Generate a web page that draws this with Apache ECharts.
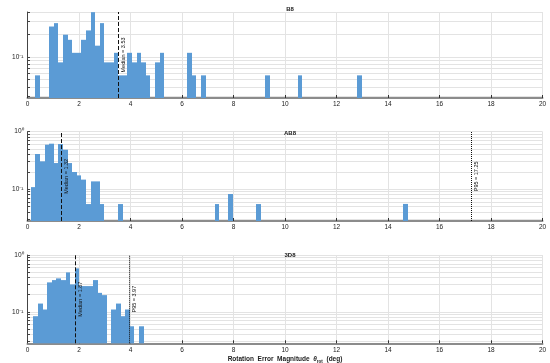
<!DOCTYPE html>
<html>
<head>
<meta charset="utf-8">
<script src="https://cdn.jsdelivr.net/npm/echarts@6/dist/echarts.min.js"></script>
<style>
html,body{margin:0;padding:0;background:#fff;}
#chart{width:550px;height:363px;}
</style>
</head>
<body>
<div id="chart"></div>
<script>
// ---- data ----
const panelTitles = ['B8', 'AB8', '3D8'];
const xTickLabels = ['0','2','4','6','8','10','12','14','16','18','20'];

// B8 histogram: bin start, bin width, non-empty bin indices and PDF values
const b8BinStart = 0.31, b8BinWidth = 0.1786;
const b8Bins = [0,3,4,5,6,7,8,9,10,11,12,13,14,15,16,17,18,19,20,21,22,23,24,26,27,33,34,36,50,57,70];
const b8Pdf  = [0.057,0.256,0.284,0.085,0.199,0.170,0.114,0.114,0.170,0.227,0.398,0.142,0.284,0.085,0.085,0.114,0.057,0.057,0.114,0.085,0.114,0.085,0.057,0.085,0.114,0.114,0.057,0.057,0.057,0.057,0.057];
const b8Median = 3.53;

// AB8 histogram
const ab8BinStart = 0.13, ab8BinWidth = 0.1785;
const ab8Bins = [0,1,2,3,4,5,6,7,8,9,10,11,12,13,14,15,19,40,43,49,81];
const ab8Pdf  = [0.108,0.408,0.304,0.593,0.618,0.284,0.609,0.485,0.284,0.198,0.173,0.146,0.0547,0.136,0.136,0.0547,0.0547,0.0547,0.082,0.0547,0.055];
const ab8Median = 1.32, ab8P95 = 17.25;

// 3D8 histogram
const d8BinStart = 0.23, d8BinWidth = 0.1783;
const d8Bins = [0,1,2,3,4,5,6,7,8,9,10,11,12,13,14,15,17,18,19,20,21,23];
const d8Pdf  = [0.0839,0.140,0.110,0.330,0.362,0.388,0.362,0.494,0.304,0.582,0.284,0.284,0.284,0.362,0.216,0.197,0.110,0.140,0.0839,0.110,0.0558,0.0558];
const d8Median = 1.87, d8P95 = 3.97;

// y ranges (log)
const yMins = [0.0284, 0.0277, 0.028];
const yMaxs = [0.4, 1, 1];
const yGridVals = [
  [0.03,0.04,0.05,0.06,0.07,0.08,0.09,0.1,0.2,0.3,0.4],
  [0.03,0.04,0.05,0.06,0.07,0.08,0.09,0.1,0.2,0.3,0.4,0.5,0.6,0.7,0.8,0.9,1],
  [0.03,0.04,0.05,0.06,0.07,0.08,0.09,0.1,0.2,0.3,0.4,0.5,0.6,0.7,0.8,0.9,1]
];
const yLabelVals = [[0.1],[0.1,1],[0.1,1]];

// ---- build chart ----
const FONT = 'Liberation Sans, Arial, sans-serif';
const BAR = '#5b9bd5';
const grids = [
  {left: 27.5, right: 7.5, top: 12, height: 86, outerBoundsMode: 'none', containLabel: false},
  {left: 27.5, right: 7.5, top: 131.7, height: 89.3, outerBoundsMode: 'none', containLabel: false},
  {left: 27.5, right: 7.5, top: 255, height: 88.3, outerBoundsMode: 'none', containLabel: false}
];
const titleTops = [1.5, 125.5, 247];

function toRects(start, width, bins, pdf) {
  return bins.map((k, i) => [start + k * width, start + (k + 1) * width, pdf[i]]);
}
const panelData = [
  toRects(b8BinStart, b8BinWidth, b8Bins, b8Pdf),
  toRects(ab8BinStart, ab8BinWidth, ab8Bins, ab8Pdf),
  toRects(d8BinStart, d8BinWidth, d8Bins, d8Pdf)
];
const panelLines = [
  [{x: b8Median, text: 'Median = ' + b8Median.toFixed(2), type: [4, 2]}],
  [{x: ab8Median, text: 'Median = ' + ab8Median.toFixed(2), type: [4, 2]},
   {x: ab8P95, text: 'P95 = ' + ab8P95.toFixed(2), type: [1, 1]}],
  [{x: d8Median, text: 'Median = ' + d8Median.toFixed(2), type: [4, 2]},
   {x: d8P95, text: 'P95 = ' + d8P95.toFixed(2), type: [1, 1]}]
];

const option = {
  animation: false,
  backgroundColor: '#fff',
  title: panelTitles.map((t, i) => ({
    text: t, left: 285, top: titleTops[i], textAlign: 'center',
    textStyle: {fontFamily: FONT, fontSize: 6, fontWeight: 'bold', color: '#222'}
  })),
  grid: grids,
  xAxis: grids.map((g, i) => ({
    type: 'value', gridIndex: i, min: 0, max: 20, interval: 2,
    axisLine: {show: true, onZero: false, lineStyle: {color: '#8c8c8c', width: 2}},
    axisTick: {show: true, inside: true, length: 3, lineStyle: {color: '#333', width: 1}},
    axisLabel: {fontFamily: FONT, fontSize: 6.5, color: '#222', margin: 3,
      formatter: v => xTickLabels[Math.round(v / 2)]},
    splitLine: {show: true, lineStyle: {color: '#e3e3e3', width: 1}},
    name: i === 2 ? '{n|Rotation  Error  Magnitude  }{t|θ}{s|rot}{n|  (deg)}' : '',
    nameLocation: 'middle', nameGap: 11,
    nameTextStyle: {
      fontFamily: FONT, fontSize: 6.5, fontWeight: 'bold', color: '#222',
      rich: {
        n: {fontFamily: FONT, fontSize: 6.5, fontWeight: 'bold', color: '#222', lineHeight: 10, verticalAlign: 'middle'},
        t: {fontFamily: FONT, fontSize: 6.5, fontWeight: 'bold', fontStyle: 'italic', color: '#222', lineHeight: 10, verticalAlign: 'middle'},
        s: {fontFamily: FONT, fontSize: 4.5, fontWeight: 'bold', color: '#222', lineHeight: 6, verticalAlign: 'bottom'}
      }
    }
  })),
  yAxis: grids.map((g, i) => ({
    type: 'log', logBase: 10, gridIndex: i, min: yMins[i], max: yMaxs[i],
    name: 'PDF', nameLocation: 'middle', nameGap: 18,
    nameTextStyle: {fontFamily: FONT, fontSize: 6, fontWeight: 'bold', color: '#222'},
    axisLine: {show: true, lineStyle: {color: '#444', width: 1}},
    axisTick: {show: true, inside: true, length: 2.5, customValues: yGridVals[i], lineStyle: {color: '#444'}},
    axisLabel: {fontFamily: FONT, fontSize: 6.5, color: '#222', margin: 4,
      customValues: yLabelVals[i],
      formatter: v => (v >= 0.99 ? '10\u2070' : '10\u207B\u00B9')},
    splitLine: {show: true, lineStyle: {color: '#e3e3e3', width: 1}}
  })),
  series: panelData.map((d, i) => ({
    type: 'custom', xAxisIndex: i, yAxisIndex: i,
    data: d,
    renderItem: (params, api) => {
      const p0 = api.coord([api.value(0), api.value(2)]);
      const p1 = api.coord([api.value(1), yMins[i]]);
      const xa = Math.round(p0[0]), xb = Math.round(p1[0]);
      return {type: 'rect', shape: {x: xa, y: p0[1], width: xb - xa, height: p1[1] - p0[1]},
        style: {fill: BAR}};
    },
    markLine: {
      silent: true, symbol: 'none',
      data: panelLines[i].map(l => ({
        xAxis: l.x,
        lineStyle: {color: '#111', width: 1, type: l.type},
        label: {show: true, formatter: l.text, position: 'insideMiddleBottom', distance: 2,
          fontFamily: FONT, fontSize: 5.5, color: '#111'}
      }))
    }
  }))
};

const chart = echarts.init(document.getElementById('chart'), null, {renderer: 'canvas'});
chart.setOption(option);
</script>
</body>
</html>
